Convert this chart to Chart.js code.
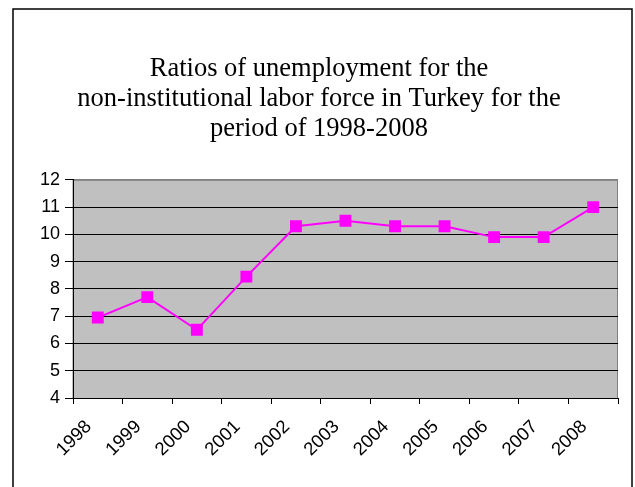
<!DOCTYPE html>
<html>
<head>
<meta charset="utf-8">
<script src="https://cdn.jsdelivr.net/npm/chart.js@4/dist/chart.umd.min.js"></script>
<style>
  html, body { margin: 0; padding: 0; background: #fff; }
  #wrap { width: 635px; height: 487px; }
</style>
</head>
<body>
<div id="wrap"><canvas id="canvas" width="635" height="487"></canvas></div>
<script>
const years = ['1998', '1999', '2000', '2001', '2002', '2003', '2004', '2005', '2006', '2007', '2008'];
const rates = [6.95, 7.7, 6.5, 8.45, 10.3, 10.5, 10.3, 10.3, 9.9, 9.9, 11.0];
const titleLines = [
    'Ratios of unemployment for the',
    'non-institutional labor force in Turkey for the',
    'period of 1998-2008'
];
const yMin = 4;
const yMax = 12;

// frame round the whole chart + grey plot area
const framePlugin = {
    id: 'frame',
    beforeDraw(chart) {
        const ctx = chart.ctx;
        const a = chart.chartArea;
        ctx.save();
        ctx.fillStyle = '#fff';
        ctx.fillRect(0, 0, chart.width, chart.height);
        ctx.strokeStyle = '#000';
        ctx.lineWidth = 1.5;
        ctx.strokeRect(13, 9, 619, 520);
        ctx.fillStyle = '#C0C0C0';
        ctx.fillRect(a.left, a.top, a.right - a.left, a.bottom - a.top);
        ctx.strokeStyle = '#808080';
        ctx.lineWidth = 1;
        ctx.strokeRect(a.left, a.top + 0.5, a.right - a.left - 0.5, a.bottom - a.top);
        ctx.restore();
    }
};

const ctx = document.getElementById('canvas').getContext('2d');
const myChart = new Chart(ctx, {
    type: 'line',
    data: {
        labels: years,
        datasets: [{
            label: 'Unemployment',
            data: rates,
            borderColor: '#FF00FF',
            backgroundColor: '#FF00FF',
            borderWidth: 2,
            pointStyle: 'rect',
            pointRadius: 7,
            pointHoverRadius: 7,
            tension: 0
        }]
    },
    options: {
        responsive: false,
        animation: false,
        layout: {
            padding: { left: 20, right: 17, top: 10, bottom: 0 }
        },
        plugins: {
            legend: { display: false },
            tooltip: { enabled: false },
            title: {
                display: true,
                text: titleLines,
                color: '#000',
                font: { family: '"Liberation Serif", "Times New Roman", serif', size: 26.5, weight: 'normal', lineHeight: 1.13 },
                padding: { top: 44, bottom: 36 }
            }
        },
        scales: {
            x: {
                offset: true,
                grid: {
                    offset: true,
                    drawOnChartArea: false,
                    color: '#000',
                    tickLength: 6
                },
                border: { color: '#000', width: 1 },
                ticks: {
                    color: '#000',
                    font: { family: '"Liberation Sans", Arial, sans-serif', size: 18.5 },
                    minRotation: 45,
                    maxRotation: 45,
                    labelOffset: -9,
                    padding: 12
                },
                afterFit(scale) { scale.height = 89; }
            },
            y: {
                min: yMin,
                max: yMax,
                grid: {
                    color: (c) => (c.tick && c.tick.value === yMax) ? '#808080' : '#000',
                    tickColor: '#000',
                    tickLength: 8
                },
                border: { color: '#000', width: 1 },
                ticks: {
                    stepSize: 1,
                    color: '#000',
                    font: { family: '"Liberation Sans", Arial, sans-serif', size: 18 },
                    padding: 5
                },
                afterFit(scale) { scale.width = 53; }
            }
        }
    },
    plugins: [framePlugin]
});
</script>
</body>
</html>
